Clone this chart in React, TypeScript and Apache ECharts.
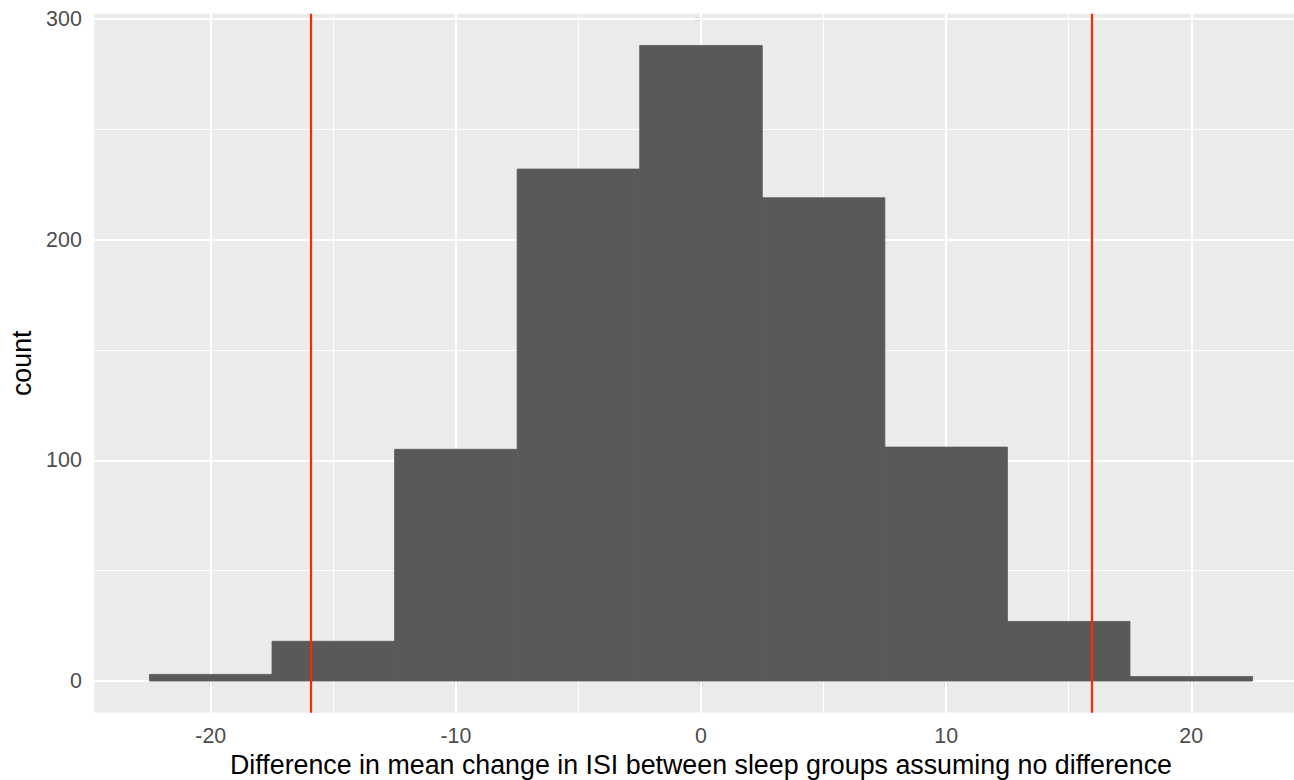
import React, { useEffect, useRef } from "react";
import * as echarts from "echarts";

// ---- data ----
const binEdges = [-22.5, -17.5, -12.5, -7.5, -2.5, 2.5, 7.5, 12.5, 17.5, 22.5];
const counts = [3, 18, 105, 232, 288, 219, 106, 27, 2];
const criticalValues = [-15.93, 15.93];
const xMajorTicks = [-20, -10, 0, 10, 20];
const xMinorTicks = [-15, -5, 5, 15];
const yMajorTicks = [0, 100, 200, 300];
const yMinorTicks = [50, 150, 250];
const xRange = [-24.75, 24.75];
const yRange = [-14.4, 302.4];
const xTitle = "Difference in mean change in ISI between sleep groups assuming no difference";
const yTitle = "count";

const FONT = "'Liberation Sans', Arial, Helvetica, sans-serif";

export default function App() {
  const ref = useRef<HTMLDivElement>(null);

  useEffect(() => {
    if (!ref.current) return;
    const chart = echarts.init(ref.current, undefined, { renderer: "svg" });

    const bars = counts.map((c, i) => [binEdges[i], binEdges[i + 1], c]);

    const gridLines = [
      ...xMajorTicks.map((v) => ({ xAxis: v, lineStyle: { width: 2.2 } })),
      ...xMinorTicks.map((v) => ({ xAxis: v, lineStyle: { width: 1.1 } })),
      ...yMajorTicks.map((v) => ({ yAxis: v, lineStyle: { width: 2.2 } })),
      ...yMinorTicks.map((v) => ({ yAxis: v, lineStyle: { width: 1.1 } })),
    ];

    chart.setOption({
      animation: false,
      grid: {
        left: 94.3,
        top: 13.7,
        width: 1213.4,
        height: 699.1,
        show: true,
        backgroundColor: "#EBEBEB",
        borderWidth: 0,
        containLabel: false,
        outerBoundsMode: "none",
      },
      xAxis: {
        type: "value",
        min: xRange[0],
        max: xRange[1],
        axisLine: { show: false },
        splitLine: { show: false },
        axisTick: {
          show: true,
          customValues: xMajorTicks,
          length: 6,
          lineStyle: { color: "#333333", width: 2.2 },
        },
        axisLabel: {
          customValues: xMajorTicks,
          color: "#4D4D4D",
          fontSize: 21.4,
          fontFamily: FONT,
          margin: 12.5,
        },
        name: xTitle,
        nameLocation: "middle",
        nameGap: 39,
        nameTextStyle: { color: "#000000", fontSize: 26.8, fontFamily: FONT },
      },
      yAxis: {
        type: "value",
        min: yRange[0],
        max: yRange[1],
        axisLine: { show: false },
        splitLine: { show: false },
        axisTick: {
          show: true,
          customValues: yMajorTicks,
          length: 6,
          lineStyle: { color: "#333333", width: 2.2 },
        },
        axisLabel: {
          customValues: yMajorTicks,
          color: "#4D4D4D",
          fontSize: 21.4,
          fontFamily: FONT,
          margin: 12.5,
        },
        name: yTitle,
        nameLocation: "middle",
        nameRotate: 90,
        nameGap: 56,
        nameTextStyle: { color: "#000000", fontSize: 26.8, fontFamily: FONT },
      },
      series: [
        {
          type: "custom",
          name: "bars",
          z: 2,
          data: bars,
          encode: { x: [0, 1], y: 2 },
          renderItem: (params: any, api: any) => {
            const x0 = api.value(0);
            const x1 = api.value(1);
            const c = api.value(2);
            const pTop = api.coord([x0, c]);
            const pBot = api.coord([x1, 0]);
            return {
              type: "rect",
              shape: {
                x: pTop[0],
                y: pTop[1],
                width: pBot[0] - pTop[0],
                height: pBot[1] - pTop[1],
              },
              style: { fill: "#595959", stroke: "#595959", lineWidth: 0.8 },
            };
          },
          markLine: {
            z: 1,
            silent: true,
            symbol: ["none", "none"],
            label: { show: false },
            emphasis: { disabled: true },
            lineStyle: { type: "solid", color: "#FFFFFF" },
            data: gridLines,
          },
        },
        {
          type: "line",
          name: "critical",
          data: [],
          markLine: {
            z: 6,
            silent: true,
            symbol: ["none", "none"],
            label: { show: false },
            emphasis: { disabled: true },
            lineStyle: { type: "solid", color: "#FF2600", width: 2.2 },
            data: criticalValues.map((v) => ({ xAxis: v })),
          },
        },
      ],
    });

    return () => {
      chart.dispose();
    };
  }, []);

  return (
    <div
      style={{
        position: "fixed",
        left: 0,
        top: 0,
        width: 1294,
        height: 780,
        overflow: "hidden",
        background: "#FFFFFF",
      }}
    >
      <div ref={ref} style={{ width: 1308, height: 780 }} />
    </div>
  );
}
